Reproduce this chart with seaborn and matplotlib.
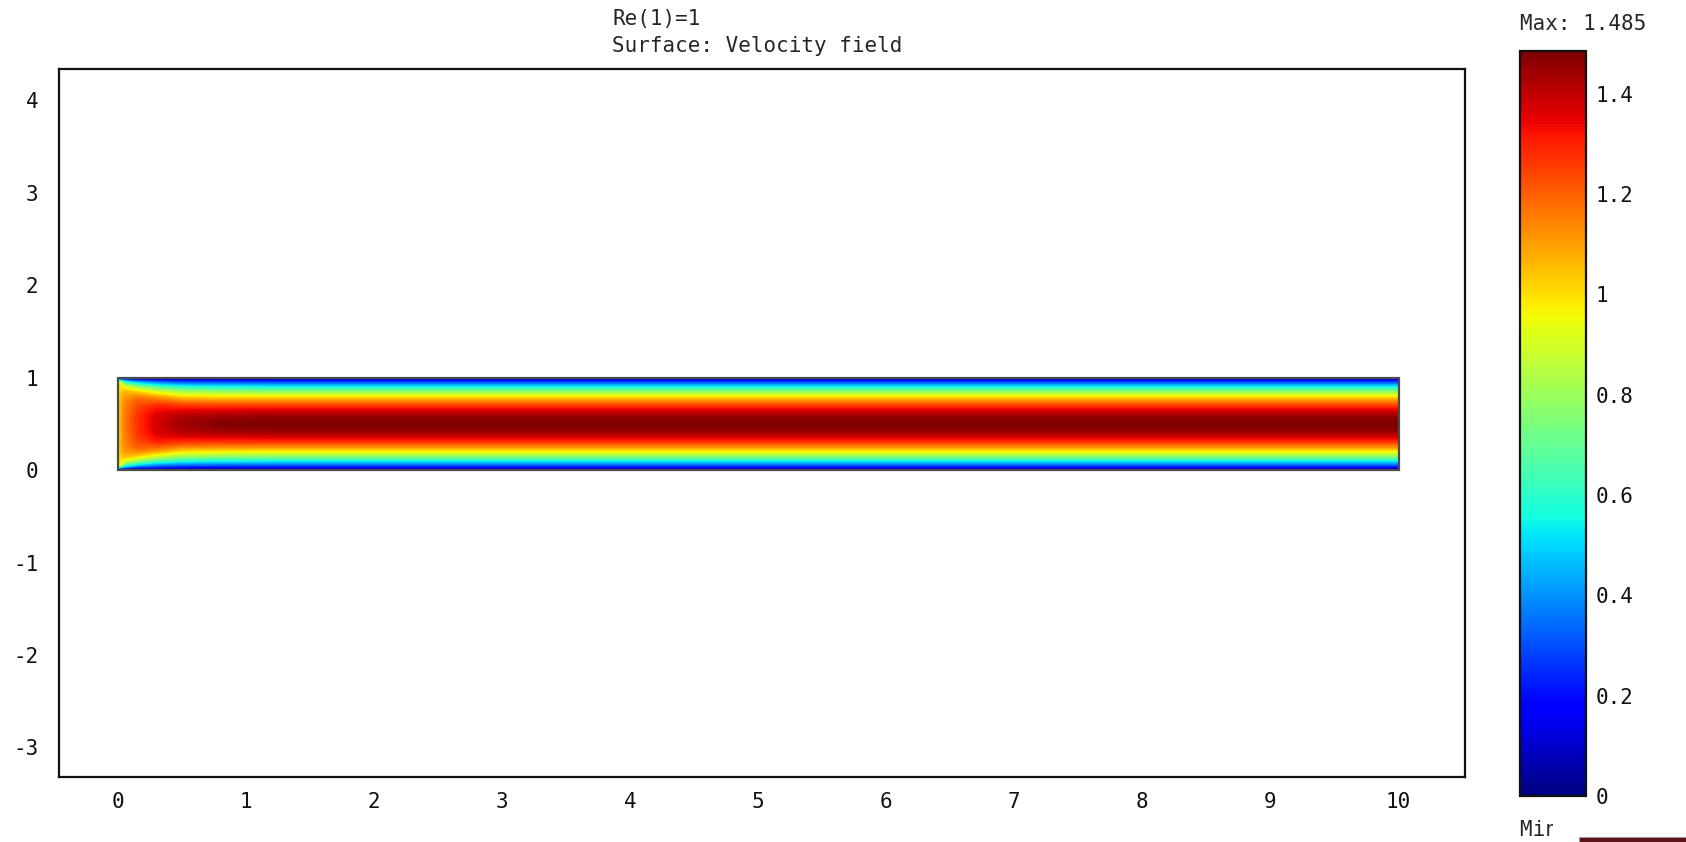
import numpy as np
import matplotlib
matplotlib.use("Agg")
import matplotlib.pyplot as plt
import seaborn as sns
from matplotlib.colors import Normalize
from matplotlib.cm import ScalarMappable
from matplotlib.patches import Rectangle
from matplotlib.transforms import Bbox, TransformedBbox

# ---- data -----------------------------------------------------------------
title_lines = ["Re(1)=1", "Surface: Velocity field"]
u_max = 1.485
u_min = 0.0

# channel geometry
channel_x = [0.0, 10.0]
channel_y = [0.0, 1.0]

# axial stations where the velocity profile is sampled
x_stations = [0.0, 0.05, 0.15, 0.3, 0.5, 0.8, 1.2, 10.0]
# wall-normal sample positions over the lower half (profile is symmetric)
y_half = [0.0, 0.05, 0.10, 0.15, 0.20, 0.25, 0.30, 0.35, 0.40, 0.45, 0.50]

# velocity magnitude on the lower half of the channel at each station
u_x000 = [0.0, 1.00, 1.00, 1.00, 1.00, 1.00, 1.00, 1.00, 1.00, 1.00, 1.00]
u_x005 = [0.0, 0.60, 0.92, 1.05, 1.10, 1.12, 1.13, 1.14, 1.14, 1.15, 1.15]
u_x015 = [0.0, 0.44, 0.78, 1.00, 1.13, 1.20, 1.23, 1.25, 1.26, 1.27, 1.27]
u_x030 = [0.0, 0.35, 0.65, 0.89, 1.07, 1.19, 1.28, 1.33, 1.36, 1.37, 1.37]
u_x050 = [0.0, 0.30, 0.57, 0.80, 0.98, 1.13, 1.25, 1.34, 1.40, 1.43, 1.44]
u_x080 = [0.0, 0.29, 0.545, 0.77, 0.955, 1.115, 1.245, 1.345, 1.415, 1.46, 1.475]
u_x120 = [0.0, 0.282, 0.535, 0.757, 0.950, 1.114, 1.247, 1.351, 1.426, 1.470, 1.485]
u_x1000 = [0.0, 0.282, 0.535, 0.757, 0.950, 1.114, 1.247, 1.351, 1.426, 1.470, 1.485]

x_ticks = [0, 1, 2, 3, 4, 5, 6, 7, 8, 9, 10]
y_ticks = [-3, -2, -1, 0, 1, 2, 3, 4]
cbar_ticks = [0, 0.2, 0.4, 0.6, 0.8, 1.0, 1.2, 1.4]

# ---- build the sampled field ----------------------------------------------
half_profiles = [u_x000, u_x005, u_x015, u_x030, u_x050, u_x080, u_x120, u_x1000]
y_full = np.concatenate([np.array(y_half), 1.0 - np.array(y_half[-2::-1])])
U = np.column_stack([np.concatenate([np.array(p), np.array(p[-2::-1])])
                     for p in half_profiles])
X, Y = np.meshgrid(np.array(x_stations), y_full)

# ---- figure ---------------------------------------------------------------
sns.set_theme(style="white")
FS = 15
plt.rcParams['font.family'] = ['DejaVu Sans Mono', 'DejaVu Sans']
plt.rcParams['font.size'] = FS

fig = plt.figure(figsize=(16.86, 8.42), dpi=100)
ax = fig.add_axes([0.035, 0.0772, 0.834, 0.841])
cax = fig.add_axes([0.9015, 0.0546, 0.0391, 0.8848])

cmap = matplotlib.colormaps["jet"]
norm = Normalize(vmin=u_min, vmax=u_max)
levels = np.linspace(u_min, u_max, 300)
cf = ax.contourf(X, Y, U, levels=levels, cmap=cmap, norm=norm,
                 antialiased=False)

# channel outline
ax.add_patch(Rectangle((channel_x[0], channel_y[0]),
                       channel_x[1] - channel_x[0], channel_y[1] - channel_y[0],
                       fill=False, edgecolor="#4a4a4a", linewidth=1.6, zorder=3))

ax.set_xlim(-0.46, 10.52)
ax.set_ylim(-3.32, 4.34)
ax.set_xticks(x_ticks)
ax.set_yticks(y_ticks)
ax.set_xticklabels([str(t) for t in x_ticks])
ax.set_yticklabels([str(t) for t in y_ticks])
ax.tick_params(axis="both", length=0, labelsize=FS, colors="#111111")
ax.tick_params(axis="x", pad=11)
ax.tick_params(axis="y", pad=15)
for s in ax.spines.values():
    s.set_color("#111111")
    s.set_linewidth(1.6)
ax.set_facecolor("white")

# colour legend
sm = ScalarMappable(norm=norm, cmap=cmap)
cb = fig.colorbar(sm, cax=cax, ticks=cbar_ticks)
cb.ax.set_yticklabels(["%g" % t for t in cbar_ticks])
cb.ax.tick_params(axis="y", direction="in", length=9.5, width=1.4,
                  left=True, right=True, labelsize=FS, pad=7, colors="#111111")
cb.outline.set_edgecolor("#111111")
cb.outline.set_linewidth(1.6)

# titles and extrema labels
fig.text(0.363, 0.978, title_lines[0], ha="left", va="center", fontsize=FS)
fig.text(0.363, 0.945, title_lines[1], ha="left", va="center", fontsize=FS)
fig.text(0.9015, 0.972, "Max: %g" % u_max, ha="left", va="center", fontsize=FS)
tmin = fig.text(0.9015, 0.014, "Min: %g" % u_min, ha="left", va="center",
                fontsize=FS, clip_on=True)
tmin.set_clip_box(TransformedBbox(Bbox([[0.0, 0.0], [0.9212, 0.06]]),
                                  fig.transFigure))

# strip of a window edge along the lower right corner
fig.patches.append(Rectangle((0.9365, 0.0), 0.07, 0.0065, transform=fig.transFigure,
                             facecolor="#5a0f12", edgecolor="#9a9a9a",
                             linewidth=0.8, figure=fig))

fig.savefig("out.png", dpi=100, facecolor="white")
